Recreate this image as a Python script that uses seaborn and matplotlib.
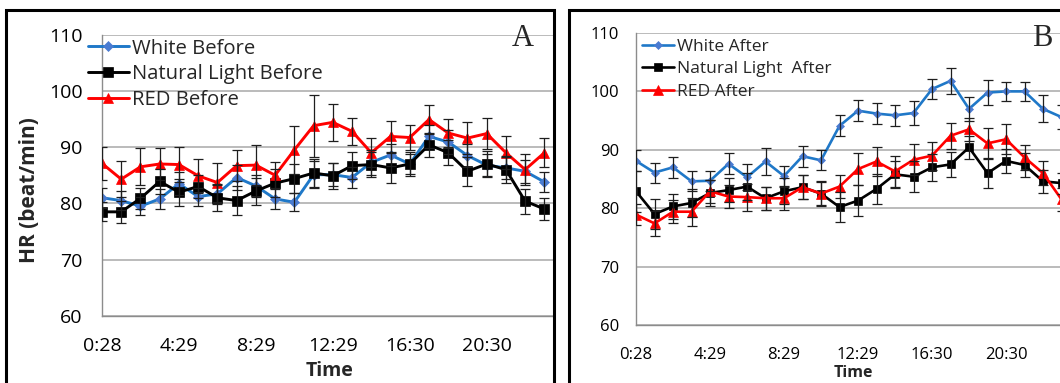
import numpy as np
import pandas as pd
import matplotlib
matplotlib.use("Agg")
import matplotlib.pyplot as plt
from matplotlib.patches import Rectangle
import seaborn as sns

# =====================================
# Data
# =====================================

tick_pos = [0, 4, 8, 12, 16, 20]
tick_labels = ["0:28", "4:29", "8:29", "12:29", "16:30", "20:30"]
hours = list(range(24))

# Panel A - before
white_before = [81.0, 80.5, 79.5, 80.8, 83.5, 81.2, 81.7, 84.6, 83.1, 80.8, 80.2, 85.1,
                85.1, 84.6, 87.3, 88.6, 87.0, 91.9, 90.9, 88.5, 86.8, 86.3, 85.7, 83.8]
natural_before = [78.5, 78.5, 80.9, 83.9, 82.0, 83.0, 81.0, 80.5, 82.2, 83.6, 84.4, 85.4,
                  84.9, 86.7, 86.9, 86.3, 87.0, 90.4, 89.0, 85.7, 87.0, 86.0, 80.4, 79.0]
red_before = [87.1, 84.3, 86.5, 87.0, 86.9, 84.9, 83.7, 86.7, 86.8, 85.0, 89.5, 93.8,
              94.4, 92.8, 89.0, 91.9, 91.7, 94.9, 92.5, 91.6, 92.4, 89.0, 86.0, 89.0]

white_before_err = [1.8, 1.7, 1.6, 1.8, 2.0, 1.6, 1.8, 2.2, 2.0, 1.8, 1.6, 2.4,
                    2.0, 1.8, 2.2, 2.0, 1.8, 2.0, 2.2, 2.0, 2.0, 2.0, 2.0, 1.8]
natural_before_err = [1.7, 2.0, 1.9, 2.2, 2.4, 2.0, 2.3, 2.6, 2.4, 2.5, 2.6, 2.5,
                      2.3, 2.4, 2.2, 2.6, 2.2, 2.1, 2.2, 2.6, 2.3, 2.4, 2.2, 1.9]
red_before_err = [3.0, 3.2, 3.3, 2.8, 3.1, 3.0, 3.5, 2.7, 3.5, 2.3, 4.2, 5.5,
                  3.3, 2.4, 2.6, 2.8, 2.3, 2.6, 2.5, 2.8, 2.8, 2.9, 2.8, 2.6]

# Panel B - after
white_after = [88.1, 86.1, 87.0, 84.6, 84.7, 87.6, 85.3, 88.0, 85.5, 88.9, 88.2, 94.1,
               96.7, 96.2, 95.9, 96.3, 100.4, 101.8, 97.0, 99.8, 100.0, 100.0, 97.0, 95.6]
natural_after = [82.9, 79.0, 80.3, 80.9, 82.6, 83.1, 83.7, 81.7, 82.9, 83.6, 82.5, 80.2,
                 81.3, 83.3, 85.8, 85.4, 87.0, 87.5, 90.4, 86.0, 88.1, 87.4, 84.6, 84.3]
red_after = [78.9, 77.4, 79.4, 79.4, 82.9, 82.0, 81.9, 81.7, 81.7, 83.6, 82.5, 83.7,
             86.7, 88.0, 86.3, 88.3, 89.0, 92.4, 93.5, 91.1, 91.8, 88.7, 86.0, 81.5]

white_after_err = [1.8, 1.7, 1.8, 1.7, 1.7, 1.8, 2.2, 2.3, 1.7, 1.8, 1.7, 1.8,
                   1.8, 1.8, 1.8, 2.0, 1.7, 2.2, 2.1, 2.1, 1.6, 1.6, 2.3, 2.0]
natural_after_err = [3.5, 2.6, 2.2, 2.4, 2.2, 2.0, 2.3, 2.0, 2.2, 2.0, 2.2, 2.6,
                     2.6, 2.5, 2.3, 2.6, 2.3, 2.2, 2.0, 2.6, 2.0, 2.0, 2.0, 1.8]
red_after_err = [1.8, 2.2, 2.0, 2.4, 2.0, 2.0, 2.3, 2.0, 2.0, 2.0, 2.0, 2.0,
                 2.8, 2.5, 2.7, 2.7, 2.4, 2.2, 2.0, 2.6, 2.6, 2.2, 2.1, 2.0]

# =====================================
# Style
# =====================================

sns.set_theme(style="white")
plt.rcParams['font.family'] = ['Open Sans', 'DejaVu Sans']

W, H = 1060, 383
fig = plt.figure(figsize=(W / 100, H / 100), dpi=100)


def px_axes(left, right, top, bottom):
    return fig.add_axes([left / W, 1 - bottom / H, (right - left) / W, (bottom - top) / H])


def draw_panel(ax, series, fs, lw):
    handles = []
    for label, y, err, line_c, mk, mk_c, size in series:
        df = pd.DataFrame({"hour": hours, "hr": y})
        sns.lineplot(data=df, x="hour", y="hr", ax=ax, color=line_c, lw=lw,
                     marker=mk, markersize=size, markerfacecolor=mk_c,
                     markeredgecolor=mk_c, markeredgewidth=0.5, label=label,
                     legend=False, zorder=2)
        handles.append(ax.lines[-1])
        ax.errorbar(hours, y, yerr=err, fmt='none', ecolor='#1e1e1e',
                    elinewidth=0.9, capsize=3.5, capthick=0.9, zorder=3)

    ax.set_xlim(0, 23.5)
    ax.set_ylim(60, 110)
    ax.set_yticks([60, 70, 80, 90, 100, 110])
    ax.set_xticks(tick_pos)
    ax.set_xticklabels(tick_labels)
    ax.grid(axis='y', color='#a8a8a8', lw=1.1)
    ax.set_axisbelow(True)
    for s in ['top', 'right']:
        ax.spines[s].set_visible(False)
    for s in ['left', 'bottom']:
        ax.spines[s].set_color('#8c8c8c')
        ax.spines[s].set_linewidth(1.0)
    ax.tick_params(axis='both', colors='#8c8c8c', direction='out', length=5,
                   width=1.0, labelcolor='black', labelsize=fs)
    ax.set_xlabel("")
    ax.set_ylabel("")
    ax.patch.set_alpha(0)
    return handles


# =====================================
# Panel A
# =====================================

axA = px_axes(102, 554, 34.5, 316)
series_a = [
    ("White Before", white_before, white_before_err, '#1f78c8', 'D', '#4a7bd1', 5),
    ("Natural Light Before", natural_before, natural_before_err, 'black', 's', 'black', 6.5),
    ("RED Before", red_before, red_before_err, '#ff0000', '^', '#ff0000', 7),
]
hA = draw_panel(axA, series_a, 14, 2.1)
axA.tick_params(axis='y', pad=9)
axA.tick_params(axis='x', pad=10)
axA.legend(handles=hA, loc='upper left', bbox_to_anchor=(88 / W, 1 - 38.5 / H),
           bbox_transform=fig.transFigure, frameon=False, fontsize=14.6,
           handlelength=2.0, handletextpad=0.15, borderpad=0, borderaxespad=0,
           labelspacing=0.28)

# =====================================
# Panel B
# =====================================

axB = px_axes(636, 636 + 23.5 * 18.5, 33, 325)
series_b = [
    ("White After", white_after, white_after_err, '#1f78c8', 'D', '#4a7bd1', 4.5),
    ("Natural Light  After", natural_after, natural_after_err, 'black', 's', 'black', 6),
    ("RED After", red_after, red_after_err, '#ff0000', '^', '#ff0000', 6.5),
]
hB = draw_panel(axB, series_b, 12, 1.9)
axB.tick_params(axis='y', pad=7)
axB.tick_params(axis='x', pad=11)
axB.legend(handles=hB, loc='upper left', bbox_to_anchor=(642 / W, 1 - 38.5 / H),
           bbox_transform=fig.transFigure, frameon=False, fontsize=12.5,
           handlelength=1.85, handletextpad=0.15, borderpad=0, borderaxespad=0,
           labelspacing=0.38)

# =====================================
# Labels, panel letters, borders
# =====================================

fig.text(30 / W, 1 - 190 / H, "HR (beat/min)", rotation=90, ha='center', va='center',
         fontsize=15, fontweight='bold')
fig.text(330 / W, 1 - 371 / H, "Time", ha='center', va='center', fontsize=14,
         fontweight='bold')
fig.text(853 / W, 1 - 373 / H, "Time", ha='center', va='center', fontsize=11.5,
         fontweight='bold')
fig.text(523 / W, 1 - 39 / H, "A", ha='center', va='center', fontsize=22,
         family='Liberation Serif')
fig.text(1042 / W, 1 - 38 / H, "B", ha='center', va='center', fontsize=22,
         family='Liberation Serif')

fig.add_artist(Rectangle((6 / W, -0.05), (554 - 6) / W, 1.05 - 10 / H,
                         transform=fig.transFigure, fill=False, ec='black', lw=2.2))
fig.add_artist(Rectangle((569 / W, -0.05), 1.0, 1.05 - 10 / H,
                         transform=fig.transFigure, fill=False, ec='black', lw=2.2))

fig.savefig("out.png", dpi=100)
